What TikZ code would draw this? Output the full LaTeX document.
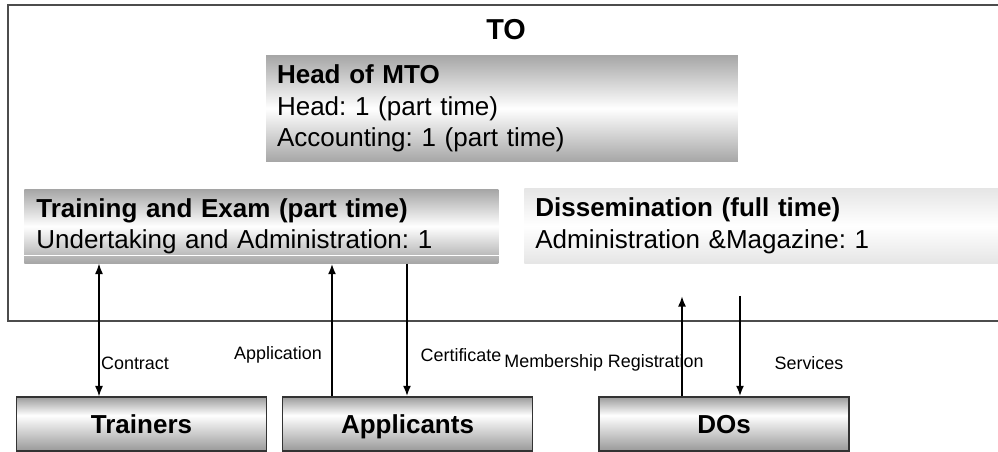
\documentclass[tikz,border=0pt]{standalone}
\usepackage{fontspec}
\setmainfont{Liberation Sans}
\frenchspacing
\usetikzlibrary{calc,arrows.meta}
\tikzset{>={Latex[length=6pt,width=4.6pt]}}

% shading of the outside parties: white band above the middle
\pgfdeclareverticalshading{partyshade}{100bp}{color(0bp)=(gray!80); color(25bp)=(gray!80); color(58bp)=(white); color(75bp)=(gray!78); color(100bp)=(gray!78)}

\tikzset{
  boxfont/.style={font=\fontsize{14.8}{17.9}\selectfont},
  unitbox/.style={boxfont, align=left, inner xsep=0.22cm, inner ysep=0pt, text width=9cm,
    top color=gray!70, bottom color=gray!70, middle color=white},
  partybox/.style={font=\fontsize{14.8}{17.9}\selectfont\bfseries, draw=black!80, line width=0.8pt,
    shading=partyshade, minimum width=5cm, minimum height=1.08cm, inner sep=0pt,
    text height=10.6pt, text depth=0pt},
  flowlabel/.style={font=\fontsize{10.2}{12}\selectfont, inner sep=1pt},
  flow/.style={line width=1.1pt},
  thinflow/.style={line width=0.6pt}
}

\begin{document}
\begin{tikzpicture}[x=0.02cm,y=-0.02cm]
  \useasboundingbox (0,0) rectangle (998,452);
  \clip (0,0) rectangle (998,452);
  % frame of TO, open to the right
  \draw[gray!60!black, line width=0.6pt] (1010,5) -- (8,5) -- (8,321) -- (1010,321);
  \node[font=\fontsize{16.4}{19}\selectfont\bfseries] (to) at (506,30) {TO};
  % units inside TO
  \node[unitbox, minimum height=2.14cm] (head) at (502,108.5)
    {\textbf{Head of MTO}\\Head: 1 (part time)\\Accounting: 1 (part time)};
  \node[unitbox, anchor=north west, minimum height=1.48cm, inner xsep=0.24cm] (train) at (24,189)
    {\textbf{Training and Exam (part time)}\\Undertaking and Administration: 1};
  \draw[white, line width=0.6pt] ($(train.south west)+(0,-8)$) -- ($(train.south east)+(0,-8)$);
  \node[unitbox, anchor=north west, minimum height=1.5cm, text width=9.1cm,
    top color=gray!20, bottom color=gray!20, middle color=white] (dissem) at (524,188)
    {\textbf{Dissemination (full time)}\\Administration \&Magazine: 1};
  % outside parties
  \node[partybox] (trainers) at (141.5,424) {Trainers};
  \node[partybox] (applicants) at (407.5,424) {Applicants};
  \node[partybox] (dos) at (724,424) {DOs};
  % flows
  \coordinate (xcon) at (99,0);
  \coordinate (xapp) at (332,0);
  \coordinate (xcert) at (407,0);
  \coordinate (xmem) at (682,0);
  \coordinate (xserv) at (740,0);
  \coordinate (dtop) at (0,296);
  \node[flowlabel] (lcon) at (135,363) {Contract};
  \node[flowlabel] (lapp) at (278,355) {Application};
  \node[flowlabel] (lcert) at (461,355) {Certificate};
  \node[flowlabel] (lmem) at (604,363) {Membership Registration};
  \node[flowlabel] (lserv) at (809,363) {Services};
  \draw[<->, thinflow] (xcon |- train.south) -- (xcon |- trainers.north);
  \draw[->, flow] (xapp |- applicants.north) -- (xapp |- train.south);
  \draw[->, flow] (xcert |- train.south) -- (xcert |- applicants.north);
  \draw[->, flow] (xmem |- dos.north) -- (xmem |- dtop);
  \draw[->, flow] (xserv |- dtop) -- (xserv |- dos.north);
\end{tikzpicture}
\end{document}
